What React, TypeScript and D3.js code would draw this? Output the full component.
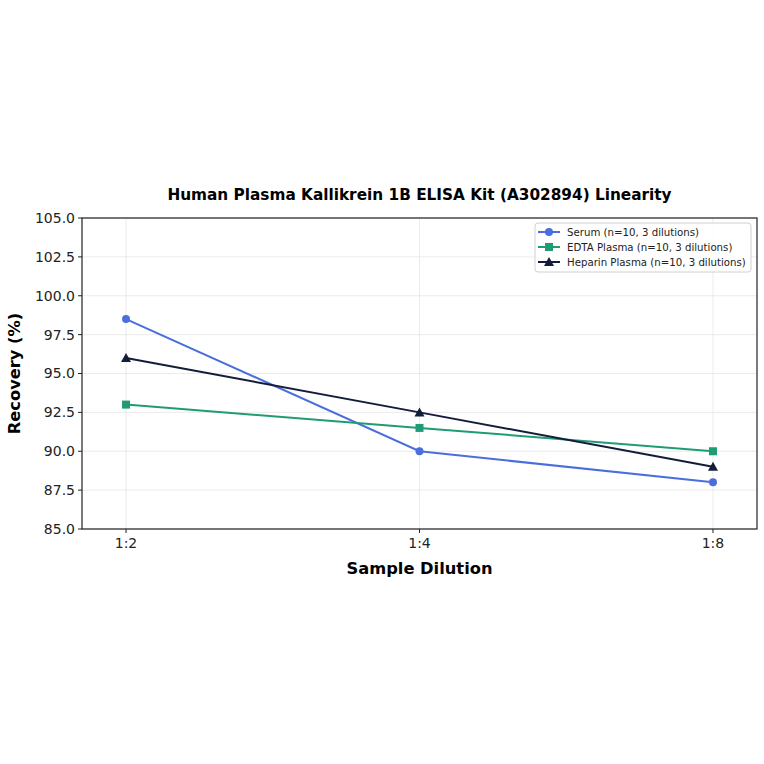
import React from "react";
import * as d3 from "d3";

const categories = ["1:2", "1:4", "1:8"];
const serum = [98.5, 90.0, 88.0];
const edta = [93.0, 91.5, 90.0];
const heparin = [96.0, 92.5, 89.0];
const yTicks = [85.0, 87.5, 90.0, 92.5, 95.0, 97.5, 100.0, 102.5, 105.0];
const seriesNames = [
  "Serum (n=10, 3 dilutions)",
  "EDTA Plasma (n=10, 3 dilutions)",
  "Heparin Plasma (n=10, 3 dilutions)",
];

const W = 764, H = 764;
const L = 82, R = 757, T = 218, B = 529;
const font = "'DejaVu Sans', sans-serif";

export default function App() {
  const x = d3.scaleLinear().domain([-0.15, 2.15]).range([L, R]);
  const y = d3.scaleLinear().domain([85, 105]).range([B, T]);
  const line = d3.line<number>().x((_, i) => x(i)).y((d) => y(d));
  const series = [
    { name: seriesNames[0], data: serum, color: "#4a6fdc", marker: "circle" },
    { name: seriesNames[1], data: edta, color: "#1f9c74", marker: "square" },
    { name: seriesNames[2], data: heparin, color: "#131c3b", marker: "triangle" },
  ];
  const marker = (m: string, cx: number, cy: number, color: string, key?: any) => {
    if (m === "circle") return <circle key={key} cx={cx} cy={cy} r={4} fill={color} />;
    if (m === "square") return <rect key={key} x={cx - 4} y={cy - 4} width={8} height={8} fill={color} />;
    const s = 5;
    return <path key={key} d={`M${cx},${cy - s}L${cx + s},${cy + s * 0.8}L${cx - s},${cy + s * 0.8}Z`} fill={color} />;
  };
  return (
    <svg width={W} height={H} style={{ position: "absolute", left: 0, top: 0, background: "#fff" }} fontFamily={font}>
      <rect width={W} height={H} fill="#fff" />
      {yTicks.map((t) => (
        <line key={"gy" + t} x1={L} x2={R} y1={y(t)} y2={y(t)} stroke="#e6e6e6" strokeWidth={0.8} />
      ))}
      {categories.map((c, i) => (
        <line key={"gx" + c} x1={x(i)} x2={x(i)} y1={T} y2={B} stroke="#e6e6e6" strokeWidth={0.8} />
      ))}
      {series.map((s) => (
        <g key={s.name}>
          <path d={line(s.data) || ""} fill="none" stroke={s.color} strokeWidth={2} />
          {s.data.map((v, i) => marker(s.marker, x(i), y(v), s.color, i))}
        </g>
      ))}
      <rect x={L} y={T} width={R - L} height={B - T} fill="none" stroke="#222" strokeWidth={1.2} />
      {yTicks.map((t) => (
        <g key={"yt" + t}>
          <line x1={L - 4} x2={L} y1={y(t)} y2={y(t)} stroke="#222" strokeWidth={1} />
          <text x={L - 7} y={y(t)} dy="0.35em" textAnchor="end" fontSize={14} fill="#222">
            {t.toFixed(1)}
          </text>
        </g>
      ))}
      {categories.map((c, i) => (
        <g key={"xt" + c}>
          <line x1={x(i)} x2={x(i)} y1={B} y2={B + 4} stroke="#222" strokeWidth={1} />
          <text x={x(i)} y={B + 19} textAnchor="middle" fontSize={14} fill="#222">
            {c}
          </text>
        </g>
      ))}
      <text x={(L + R) / 2} y={200} textAnchor="middle" fontSize={15.3} fontWeight="bold" fill="#000">
        Human Plasma Kallikrein 1B ELISA Kit (A302894) Linearity
      </text>
      <text x={(L + R) / 2} y={574} textAnchor="middle" fontSize={16.3} fontWeight="bold" fill="#000">
        Sample Dilution
      </text>
      <text transform={`translate(20,${(T + B) / 2}) rotate(-90)`} textAnchor="middle" fontSize={16.3} fontWeight="bold" fill="#000">
        Recovery (%)
      </text>
      <rect x={535} y={223} width={216} height={49} rx={3} fill="#fff" fillOpacity={0.85} stroke="#d0d0d0" strokeWidth={1} />
      {series.map((s, i) => {
        const ly = 232 + i * 15;
        return (
          <g key={"lg" + i}>
            <line x1={538} x2={560} y1={ly} y2={ly} stroke={s.color} strokeWidth={2} />
            {marker(s.marker, 549, ly, s.color)}
            <text x={567} y={ly} dy="0.35em" fontSize={10.2} fill="#222">
              {s.name}
            </text>
          </g>
        );
      })}
    </svg>
  );
}
